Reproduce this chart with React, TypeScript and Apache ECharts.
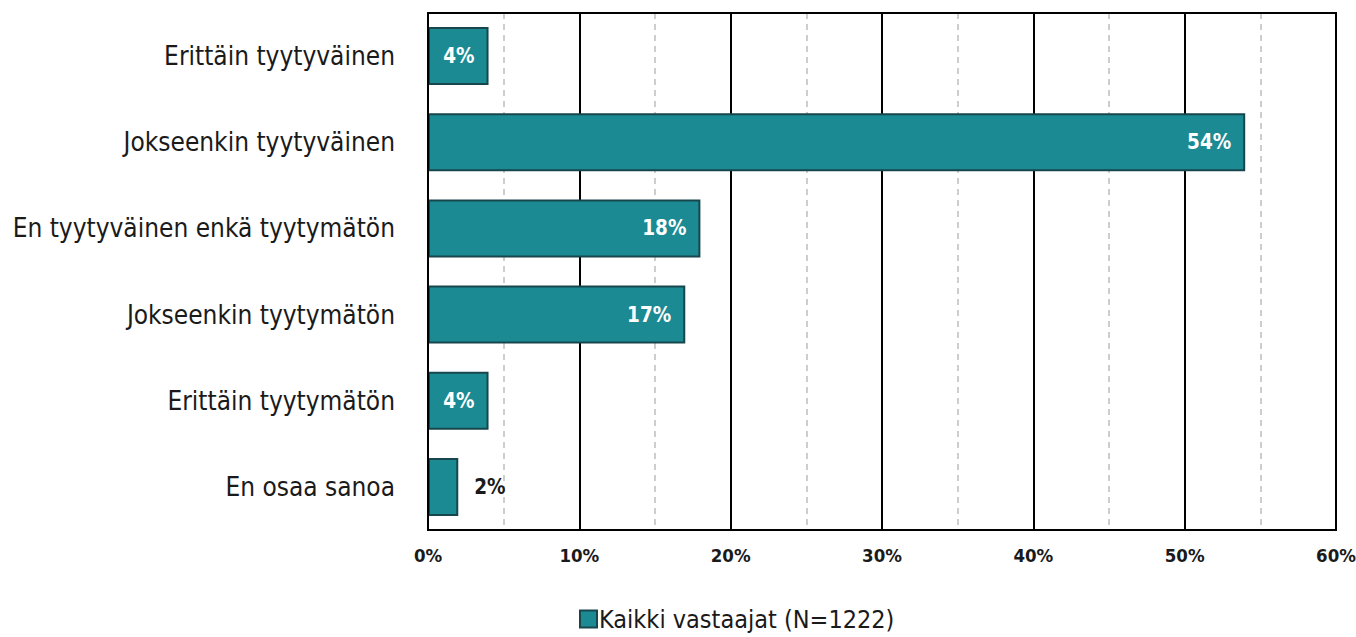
import React, { useEffect, useRef } from "react";
import * as echarts from "echarts";

const categories = [
  "Erittäin tyytyväinen",
  "Jokseenkin tyytyväinen",
  "En tyytyväinen enkä tyytymätön",
  "Jokseenkin tyytymätön",
  "Erittäin tyytymätön",
  "En osaa sanoa",
];
const values = [4, 54, 18, 17, 4, 2];
const seriesName = "Kaikki vastaajat (N=1222)";
const FONT = "DejaVu Sans Condensed";

export default function App() {
  const ref = useRef<HTMLDivElement>(null);
  useEffect(() => {
    const chart = echarts.init(ref.current!, null, { renderer: "svg" });
    chart.setOption({
      animation: false,
      textStyle: { fontFamily: FONT },
      grid: {
        left: 428,
        right: 20,
        top: 13,
        bottom: 107,
        outerBoundsMode: "none",
        containLabel: false,
        show: true,
        borderColor: "#000",
        borderWidth: 2,
        z: 10,
      },
      legend: {
        left: 579,
        top: 606,
        padding: 0,
        icon: "rect",
        itemWidth: 17,
        itemHeight: 17,
        itemGap: 4,
        textStyle: {
          fontFamily: FONT,
          fontSize: 25,
          lineHeight: 26,
          color: "#1a1a1a",
          padding: [0, 0, 0, -3],
        },
        data: [seriesName],
      },
      xAxis: [
        {
          type: "value",
          min: 0,
          max: 60,
          interval: 5,
          position: "bottom",
          axisLabel: { show: false },
          axisLine: { show: false },
          axisTick: { show: false },
          splitLine: { show: true, lineStyle: { color: "#bdbdbd", type: [6, 5], width: 1.5 } },
          z: 1,
        },
        {
          type: "value",
          min: 0,
          max: 60,
          interval: 10,
          position: "bottom",
          axisLabel: {
            formatter: "{value}%",
            fontFamily: FONT,
            fontSize: 18.5,
            fontWeight: "bold",
            color: "#1a1a1a",
            margin: 16,
          },
          axisLine: { show: false },
          axisTick: { show: false },
          splitLine: { show: true, lineStyle: { color: "#000", width: 2 } },
          z: 2,
        },
      ],
      yAxis: {
        type: "category",
        inverse: true,
        data: categories,
        axisLine: { show: false },
        axisTick: { show: false },
        axisLabel: { fontFamily: FONT, fontSize: 26, color: "#1a1a1a", margin: 33 },
      },
      series: [
        {
          name: seriesName,
          type: "bar",
          xAxisIndex: 1,
          barWidth: 58,
          z: 5,
          itemStyle: { color: "#1b8a93", borderColor: "#17474c", borderWidth: 2 },
          data: values.map((v) => ({
            value: v,
            label:
              v < 3
                ? {
                    show: true,
                    position: "right",
                    distance: 16,
                    color: "#1a1a1a",
                    fontWeight: "bold",
                    fontSize: 20.5,
                    fontFamily: FONT,
                    formatter: "{c}%",
                  }
                : {
                    show: true,
                    position: "insideRight",
                    distance: 14,
                    color: "#fff",
                    fontWeight: "bold",
                    fontSize: 20.5,
                    fontFamily: FONT,
                    formatter: "{c}%",
                  },
          })),
        },
      ],
    });
    return () => chart.dispose();
  }, []);
  return <div ref={ref} style={{ position: "absolute", left: 0, top: 0, width: 1356, height: 637 }} />;
}
